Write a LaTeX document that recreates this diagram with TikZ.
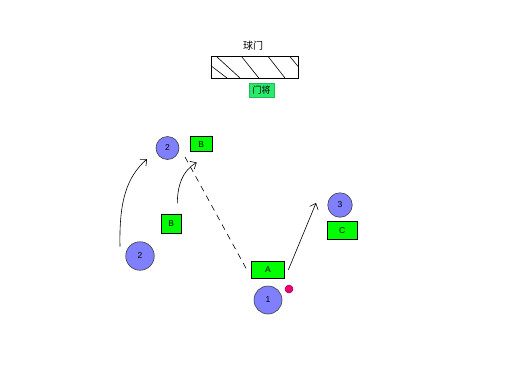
\documentclass[tikz,border=0pt]{standalone}
\usepackage{fontspec}
\setmainfont{Liberation Sans}
\newfontfamily\cjk{Noto Sans CJK SC}
\usetikzlibrary{arrows.meta}
\definecolor{ballblue}{RGB}{128,128,255}
\definecolor{boxgreen}{RGB}{0,255,0}
\definecolor{gkgreen}{RGB}{40,235,110}
\definecolor{pinkball}{RGB}{235,0,110}
\begin{document}
\begin{tikzpicture}[x=1pt,y=-1pt,
  player/.style={circle,draw=black!75,fill=ballblue,inner sep=0pt,line width=0.6pt,font=\fontsize{8.5}{8.5}\selectfont},
  tagbox/.style={rectangle,draw=black,fill=boxgreen,inner sep=0pt,line width=0.6pt,font=\fontsize{8.5}{8.5}\selectfont},
  arr/.style={-{Straight Barb[length=5pt,width=9pt]},line width=0.6pt},
  thin line/.style={line width=0.6pt}]
\useasboundingbox[fill=white] (0,0) rectangle (512,384);
% goal
\node[font=\cjk\fontsize{10}{10}\selectfont] (gl) at (253,46) {球门};
\node[draw,thin line,minimum width=87pt,minimum height=21.3pt,inner sep=0pt] (goal) at (254.7,67.3) {};
\begin{scope}
  \clip (goal.south west) rectangle (goal.north east);
  \draw[thin line] (199,56.7) -- (227,78);
  \draw[thin line] (216.7,56.7) -- (240,78);
  \draw[thin line] (241.7,56.7) -- (258.8,78);
  \draw[thin line] (268.3,56.7) -- (285,78);
  \draw[thin line] (290,56.7) -- (307.7,78);
\end{scope}
\node[fill=gkgreen,draw=gkgreen!80!black,line width=0.4pt,minimum width=25.3pt,minimum height=14.6pt,inner sep=0pt,font=\cjk\fontsize{9}{9}\selectfont] (gk) at (261.7,90) {门将};
% players
\node[player,minimum size=23pt] (p2a) at (167.5,148) {2};
\node[player,minimum size=28.5pt] (p2b) at (140,256) {2};
\node[player,minimum size=28pt] (p1) at (268,300) {1};
\node[player,minimum size=24.5pt] (p3) at (340,205) {3};
% tags
\node[tagbox,minimum width=22.5pt,minimum height=15pt] (bt) at (201.3,144.2) {B};
\node[tagbox,minimum width=20.7pt,minimum height=19pt] (bl) at (171.3,223.8) {B};
\node[tagbox,minimum width=32.6pt,minimum height=16.6pt] (a) at (268,270) {A};
\node[tagbox,minimum width=30pt,minimum height=17.6pt] (c) at (342.3,230.5) {C};
% ball
\node[circle,draw=pinkball!70!black,fill=pinkball,line width=0.5pt,minimum size=8pt,inner sep=0pt] (ball) at (289,289) {};
% connectors
\coordinate (s1) at (120,246.7);
\coordinate (e1) at (147,159);
\draw[arr] (s1) .. controls (119,200) and (127,177) .. (e1);
\coordinate (s2) at (177.3,203.3);
\coordinate (e2) at (196.7,162.5);
\draw[arr] (s2) .. controls (177.5,186) and (182,171) .. (e2);
\coordinate (d1) at (185,157);
\coordinate (d2) at (247,270);
\draw[thin line,dash pattern=on 6pt off 5pt] (d1) -- (d2);
\coordinate (s3) at (288.3,270);
\coordinate (e3) at (316,203);
\draw[arr] (s3) -- (e3);
\end{tikzpicture}
\end{document}
